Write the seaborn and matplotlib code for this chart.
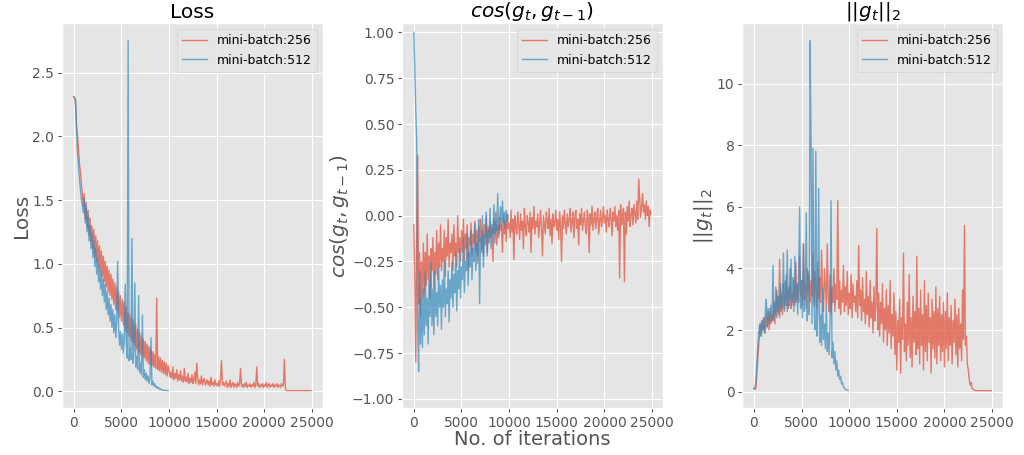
import numpy as np
import pandas as pd
import matplotlib
matplotlib.use('Agg')
import matplotlib.pyplot as plt
import seaborn as sns

plt.style.use('ggplot')

# iterations, logged every 100 steps
iters_256 = np.arange(0, 25000, 100)
iters_512 = np.arange(0, 10000, 100)

loss_256 = [
    2.31, 2.30, 2.22, 2.05, 2.00, 1.88, 1.78, 1.72, 1.62, 1.55,
    1.45, 1.55, 1.35, 1.48, 1.28, 1.42, 1.22, 1.36, 1.18, 1.30,
    1.12, 1.27, 1.06, 1.22, 1.02, 1.18, 0.98, 1.14, 0.94, 1.10,
    0.90, 1.06, 0.86, 1.02, 0.82, 0.98, 0.78, 0.95, 0.75, 0.92,
    0.72, 0.88, 0.68, 0.85, 0.64, 0.82, 0.62, 0.78, 0.58, 0.75,
    0.55, 0.72, 0.52, 0.70, 0.48, 0.66, 0.46, 0.62, 0.43, 0.60,
    0.40, 0.57, 0.38, 0.55, 0.36, 0.52, 0.33, 0.49, 0.31, 0.46,
    0.29, 0.44, 0.27, 0.41, 0.26, 0.39, 0.24, 0.37, 0.22, 0.35,
    0.21, 0.33, 0.20, 0.31, 0.19, 0.29, 0.18, 0.73, 0.17, 0.27,
    0.16, 0.26, 0.15, 0.24, 0.14, 0.23, 0.13, 0.22, 0.12, 0.20,
    0.16, 0.11, 0.15, 0.10, 0.19, 0.09, 0.14, 0.10, 0.17, 0.08,
    0.13, 0.09, 0.16, 0.08, 0.12, 0.07, 0.18, 0.08, 0.11, 0.07,
    0.14, 0.06, 0.10, 0.07, 0.13, 0.06, 0.09, 0.15, 0.06, 0.22,
    0.11, 0.05, 0.09, 0.06, 0.12, 0.05, 0.08, 0.10, 0.05, 0.07,
    0.09, 0.05, 0.08, 0.04, 0.11, 0.05, 0.07, 0.04, 0.09, 0.05,
    0.06, 0.04, 0.08, 0.04, 0.10, 0.24, 0.05, 0.07, 0.04, 0.06,
    0.08, 0.03, 0.06, 0.04, 0.09, 0.03, 0.05, 0.07, 0.03, 0.06,
    0.05, 0.03, 0.07, 0.04, 0.06, 0.18, 0.04, 0.05, 0.03, 0.06,
    0.04, 0.07, 0.03, 0.05, 0.04, 0.06, 0.03, 0.05, 0.04, 0.07,
    0.03, 0.05, 0.19, 0.04, 0.06, 0.03, 0.05, 0.04, 0.06, 0.03,
    0.05, 0.04, 0.07, 0.03, 0.05, 0.06, 0.03, 0.05, 0.04, 0.06,
    0.03, 0.05, 0.04, 0.06, 0.03, 0.05, 0.04, 0.03, 0.06, 0.04,
    0.05, 0.25, 0.03, 0.006, 0.005, 0.005, 0.005, 0.005, 0.005, 0.005,
    0.005, 0.005, 0.005, 0.005, 0.005, 0.005, 0.005, 0.005, 0.005, 0.005,
    0.005, 0.005, 0.005, 0.005, 0.005, 0.005, 0.005, 0.005, 0.005, 0.005,
]
loss_512 = [
    2.31, 2.30, 2.29, 2.02, 1.86, 1.76, 1.66, 1.58, 1.50, 1.46,
    1.40, 1.52, 1.32, 1.45, 1.25, 1.38, 1.18, 1.30, 1.12, 1.24,
    1.05, 1.18, 0.98, 1.12, 0.92, 1.05, 0.86, 0.99, 0.80, 0.94,
    0.75, 0.88, 0.70, 0.84, 0.64, 0.78, 0.60, 0.73, 0.55, 0.68,
    0.50, 0.64, 0.46, 0.60, 0.42, 0.55, 1.02, 0.50, 0.36, 0.47,
    0.33, 0.45, 0.30, 0.42, 0.84, 0.38, 0.26, 2.75, 0.24, 0.34,
    0.25, 1.20, 0.22, 0.30, 0.85, 0.19, 0.27, 0.17, 0.75, 0.15,
    0.22, 0.13, 0.60, 0.11, 0.17, 0.09, 0.14, 0.08, 0.12, 0.06,
    0.10, 0.42, 0.05, 0.08, 0.04, 0.06, 0.03, 0.04, 0.02, 0.03,
    0.015, 0.02, 0.01, 0.012, 0.008, 0.01, 0.006, 0.007, 0.005, 0.005,
]

cos_256 = [
    -0.05, -0.35, -0.80, -0.10, 0.33, -0.48, -0.20, -0.55, -0.25, -0.45,
    -0.15, -0.42, -0.20, -0.38, -0.10, -0.35, -0.22, -0.45, -0.18, -0.30,
    -0.12, -0.40, -0.20, -0.32, -0.08, -0.35, -0.15, -0.28, -0.05, -0.30,
    -0.18, -0.25, -0.08, -0.33, -0.12, -0.22, -0.02, -0.28, -0.15, -0.20,
    -0.10, -0.30, -0.05, -0.22, -0.15, -0.28, 0.00, -0.20, -0.12, -0.25,
    -0.08, -0.20, -0.02, -0.25, -0.10, -0.18, -0.05, -0.30, -0.12, -0.16,
    -0.04, -0.22, -0.10, -0.15, -0.03, -0.20, -0.08, -0.26, -0.06, -0.14,
    -0.02, -0.18, -0.08, -0.22, -0.05, -0.12, 0.00, -0.20, -0.06, -0.15,
    -0.03, -0.12, -0.07, -0.25, -0.02, -0.10, 0.02, -0.16, -0.05, -0.12,
    -0.01, -0.08, -0.05, -0.20, 0.00, -0.10, -0.03, -0.14, 0.01, -0.07,
    -0.04, -0.12, 0.03, -0.09, -0.02, -0.24, 0.00, -0.06, -0.10, 0.02,
    -0.05, -0.13, 0.01, -0.08, -0.03, -0.18, 0.04, -0.06, -0.11, 0.00,
    -0.04, -0.09, 0.02, -0.20, -0.01, -0.07, 0.05, -0.10, -0.03, -0.06,
    0.01, -0.12, -0.04, 0.03, -0.08, -0.22, 0.00, -0.05, -0.10, 0.02,
    -0.03, -0.07, 0.04, -0.11, -0.02, -0.15, 0.01, -0.06, -0.04, 0.03,
    -0.08, -0.02, -0.13, 0.02, -0.05, -0.25, 0.00, -0.07, 0.03, -0.04,
    -0.10, 0.01, -0.06, -0.02, 0.04, -0.09, -0.03, 0.02, -0.12, -0.01,
    0.03, -0.07, -0.02, -0.16, 0.01, -0.05, 0.04, -0.08, -0.03, 0.02,
    -0.06, -0.10, 0.03, -0.02, -0.20, 0.01, -0.05, 0.05, -0.08, -0.02,
    0.02, -0.07, -0.01, 0.04, -0.10, -0.03, 0.03, -0.06, -0.02, 0.05,
    -0.04, 0.00, -0.09, 0.03, -0.02, -0.06, 0.04, -0.01, -0.11, 0.02,
    -0.03, 0.05, -0.06, 0.00, -0.08, 0.03, -0.34, 0.06, -0.05, -0.01,
    0.04, -0.36, 0.02, -0.10, 0.05, -0.03, 0.08, -0.06, 0.00, 0.04,
    -0.05, 0.06, 0.01, -0.04, 0.08, -0.02, 0.20, 0.10, -0.01, 0.05,
    0.12, 0.02, 0.06, -0.02, 0.08, 0.00, 0.05, -0.06, 0.03, 0.01,
]
cos_512 = [
    1.00, 0.80, 0.58, 0.40, -0.60, -0.85, -0.30, -0.70, -0.45, -0.72,
    -0.40, -0.65, -0.30, -0.60, -0.45, -0.70, -0.35, -0.55, -0.25, -0.60,
    -0.40, -0.65, -0.30, -0.55, -0.42, -0.60, -0.28, -0.50, -0.38, -0.62,
    -0.35, -0.50, -0.25, -0.55, -0.40, -0.48, -0.30, -0.58, -0.35, -0.45,
    -0.25, -0.50, -0.32, -0.42, -0.20, -0.52, -0.30, -0.40, -0.18, -0.45,
    -0.28, -0.35, -0.12, -0.42, -0.25, -0.30, -0.10, -0.38, -0.20, -0.28,
    -0.08, -0.35, -0.18, -0.25, -0.05, -0.30, -0.15, -0.22, -0.02, -0.48,
    -0.12, -0.20, 0.00, -0.28, -0.10, -0.16, 0.02, -0.22, -0.08, -0.12,
    0.04, -0.18, -0.05, -0.10, 0.06, -0.15, -0.03, -0.08, 0.12, -0.10,
    -0.02, 0.05, -0.06, 0.08, -0.04, 0.02, -0.07, 0.03, -0.03, 0.00,
]

norm_256 = [
    0.10, 0.08, 0.10, 0.50, 1.00, 1.50, 1.90, 2.20, 1.80, 2.30,
    2.00, 2.40, 1.90, 2.50, 2.10, 2.60, 2.00, 2.70, 2.20, 2.50,
    2.30, 2.90, 2.20, 3.40, 2.40, 3.10, 2.50, 4.30, 2.60, 3.20,
    2.50, 3.50, 2.70, 3.00, 3.80, 2.60, 3.30, 2.80, 4.00, 2.70,
    3.20, 2.90, 3.60, 2.80, 4.20, 3.00, 3.50, 2.90, 4.40, 3.10,
    3.60, 2.80, 4.80, 3.00, 3.50, 2.70, 4.00, 3.20, 3.80, 2.90,
    3.60, 3.10, 4.50, 2.80, 3.90, 3.30, 2.70, 4.20, 3.00, 3.70,
    2.90, 4.60, 3.20, 2.60, 4.00, 3.40, 2.80, 4.80, 3.10, 2.60,
    3.80, 2.50, 3.40, 2.90, 4.00, 2.60, 3.50, 3.00, 6.20, 2.70,
    3.60, 2.50, 3.30, 2.90, 4.10, 2.60, 3.40, 2.80, 3.90, 2.50,
    3.20, 2.70, 3.80, 2.40, 3.50, 2.90, 3.10, 2.60, 3.60, 2.40,
    4.75, 2.80, 3.30, 2.30, 3.70, 2.60, 3.00, 2.20, 3.90, 2.50,
    3.10, 2.10, 3.60, 2.40, 2.90, 1.90, 3.40, 2.30, 2.80, 5.30,
    2.00, 3.20, 1.80, 2.90, 2.20, 3.50, 1.60, 2.70, 2.00, 3.30,
    1.50, 2.80, 1.90, 3.60, 1.40, 2.50, 1.80, 3.20, 1.20, 2.60,
    0.70, 2.30, 1.60, 3.00, 0.60, 2.40, 1.70, 4.50, 1.30, 2.20,
    1.00, 2.90, 1.50, 3.80, 1.10, 2.40, 0.80, 3.10, 1.60, 2.60,
    1.20, 4.40, 1.40, 2.70, 0.90, 3.30, 1.50, 2.50, 0.70, 3.60,
    1.30, 2.80, 1.00, 3.20, 1.60, 2.40, 0.60, 3.00, 1.40, 2.60,
    1.10, 3.40, 0.90, 2.70, 1.50, 3.10, 1.00, 2.50, 1.30, 2.90,
    0.80, 2.60, 1.40, 3.20, 1.00, 2.40, 1.50, 2.80, 0.90, 2.30,
    1.60, 3.00, 1.20, 2.50, 0.80, 2.70, 1.40, 2.20, 1.00, 3.30,
    1.70, 5.40, 1.50, 1.80, 0.90, 0.70, 0.40, 0.20, 0.30, 0.10,
    0.08, 0.05, 0.04, 0.03, 0.03, 0.03, 0.03, 0.03, 0.03, 0.03,
    0.03, 0.03, 0.03, 0.03, 0.03, 0.03, 0.03, 0.03, 0.03, 0.03,
]
norm_512 = [
    0.10, 0.08, 0.30, 0.90, 1.40, 1.90, 2.20, 1.80, 2.30, 2.00,
    2.40, 1.90, 2.60, 3.00, 2.10, 2.70, 2.20, 2.50, 2.80, 2.30,
    4.10, 2.40, 2.90, 2.50, 3.30, 2.60, 3.10, 2.40, 3.50, 2.70,
    3.00, 4.50, 2.60, 3.60, 2.80, 4.60, 2.70, 3.40, 3.00, 4.30,
    2.80, 3.70, 2.60, 4.40, 2.90, 3.50, 2.50, 3.90, 6.00, 2.70,
    3.60, 2.40, 4.80, 2.60, 3.50, 5.80, 2.30, 3.90, 2.50, 11.40,
    8.00, 2.20, 7.90, 3.00, 2.00, 7.80, 1.80, 2.60, 6.60, 1.60,
    2.50, 1.50, 3.40, 1.70, 2.20, 1.40, 2.80, 1.30, 1.90, 1.20,
    2.40, 6.20, 1.10, 1.60, 0.90, 1.30, 0.70, 1.00, 0.50, 0.70,
    0.40, 0.50, 0.25, 0.30, 0.15, 0.12, 0.08, 0.06, 0.05, 0.04,
]

panels = [
    ('Loss', 'Loss', loss_256, loss_512),
    (r'$cos(g_t, g_{t-1})$', r'$cos(g_t, g_{t-1})$', cos_256, cos_512),
    (r'$||g_t||_2$', r'$||g_t||_2$', norm_256, norm_512),
]

red = '#E24A33'
blue = '#348ABD'

fig, axes = plt.subplots(1, 3, figsize=(10.24, 4.55), dpi=100)
fig.subplots_adjust(left=0.0605, right=0.9795, bottom=0.103, top=0.949, wspace=0.303)

for ax, (title, ylab, y256, y512) in zip(axes, panels):
    sns.lineplot(x=iters_256, y=y256, color=red, alpha=0.7, lw=1,
                 estimator=None, label='mini-batch:256', ax=ax)
    sns.lineplot(x=iters_512, y=y512, color=blue, alpha=0.7, lw=1,
                 estimator=None, label='mini-batch:512', ax=ax)
    ax.set_title(title, fontsize=14.5, pad=3.5)
    ax.set_ylabel(ylab, fontsize=14.5, labelpad=1)
    ax.set_xticks([0, 5000, 10000, 15000, 20000, 25000])
    ax.tick_params(labelsize=10, pad=2.5, length=3)
    ax.legend(loc='upper right', fontsize=9)

axes[1].set_ylim(-1.05, 1.05)
axes[1].set_xlabel('No. of iterations', fontsize=14, labelpad=0)

fig.savefig('out.png', dpi=100)
